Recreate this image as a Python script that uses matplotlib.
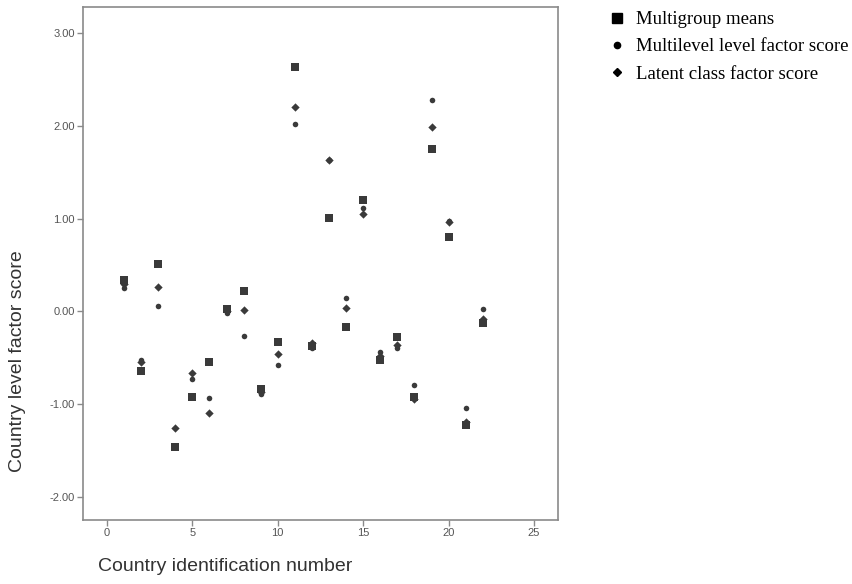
import numpy as np
import matplotlib.pyplot as plt
from matplotlib.lines import Line2D

# Country level factor scores by country id
country_id = np.arange(1, 23)

multigroup_means = [0.34, -0.64, 0.51, -1.46, -0.92, -0.55, 0.03, 0.22, -0.84, -0.33, 2.64,
                    -0.37, 1.01, -0.17, 1.20, -0.52, -0.28, -0.92, 1.75, 0.80, -1.23, -0.13]
multilevel_score = [0.25, -0.52, 0.06, np.nan, -0.73, -0.93, -0.02, -0.27, -0.89, -0.58, 2.02,
                    -0.40, 1.63, 0.14, 1.11, -0.44, -0.40, -0.79, 2.28, 0.97, -1.04, 0.03]
latent_class_score = [0.30, -0.55, 0.26, -1.26, -0.66, -1.10, 0.00, 0.02, -0.87, -0.46, 2.20,
                      -0.34, 1.63, 0.04, 1.05, -0.48, -0.36, -0.94, 1.99, 0.96, -1.19, -0.08]

legend_labels = ["Multigroup means", "Multilevel level factor score", "Latent class factor score"]

mark_color = "#3a3a3a"
frame_color = "#8a8a8a"
plt.rcParams["font.family"] = ["Liberation Sans", "DejaVu Sans"]

fig = plt.figure(figsize=(8.52, 5.84), dpi=100)
ax = fig.add_axes([0.0974, 0.1096, 0.5575, 0.878])

ax.scatter(country_id, multigroup_means, marker="s", s=34, color=mark_color,
           linewidths=0, zorder=3)
ax.scatter(country_id, multilevel_score, marker="o", s=16, color=mark_color,
           linewidths=0, zorder=3)
ax.scatter(country_id, latent_class_score, marker="D", s=18, color=mark_color,
           linewidths=0, zorder=3)

ax.set_xlim(-1.4, 26.4)
ax.set_ylim(-2.25, 3.28)
ax.set_xticks([0, 5, 10, 15, 20, 25])
ax.set_yticks([-2, -1, 0, 1, 2, 3])
ax.set_yticklabels([f"{v:.2f}" for v in [-2, -1, 0, 1, 2, 3]])

for side in ax.spines.values():
    side.set_color(frame_color)
    side.set_linewidth(1.2)
ax.tick_params(direction="out", length=4, width=1, color=frame_color,
               labelsize=8, labelcolor="#555555", pad=2)

# axis titles sit off-centre, as in the original SPSS output
ax.set_ylabel("Country level factor score", fontsize=14, color="#333333")
ax.set_xlabel("Country identification number", fontsize=14, color="#333333")
ax.yaxis.set_label_coords(-0.12, 0.31)
ax.xaxis.set_label_coords(0.30, -0.075)

# legend (black symbols, serif text) outside the plot
handles = [
    Line2D([], [], linestyle="none", marker="s", markersize=7.5, color="black"),
    Line2D([], [], linestyle="none", marker="o", markersize=4.5, color="black"),
    Line2D([], [], linestyle="none", marker="D", markersize=4.5, color="black"),
]
fig.legend(handles, legend_labels, loc="upper left", bbox_to_anchor=(0.713, 0.981),
           frameon=False, prop={"family": "Liberation Serif", "size": 13.5},
           handletextpad=0.5, labelspacing=0.54, handlelength=1.0,
           borderaxespad=0, borderpad=0)

fig.savefig("out.png", dpi=100)
